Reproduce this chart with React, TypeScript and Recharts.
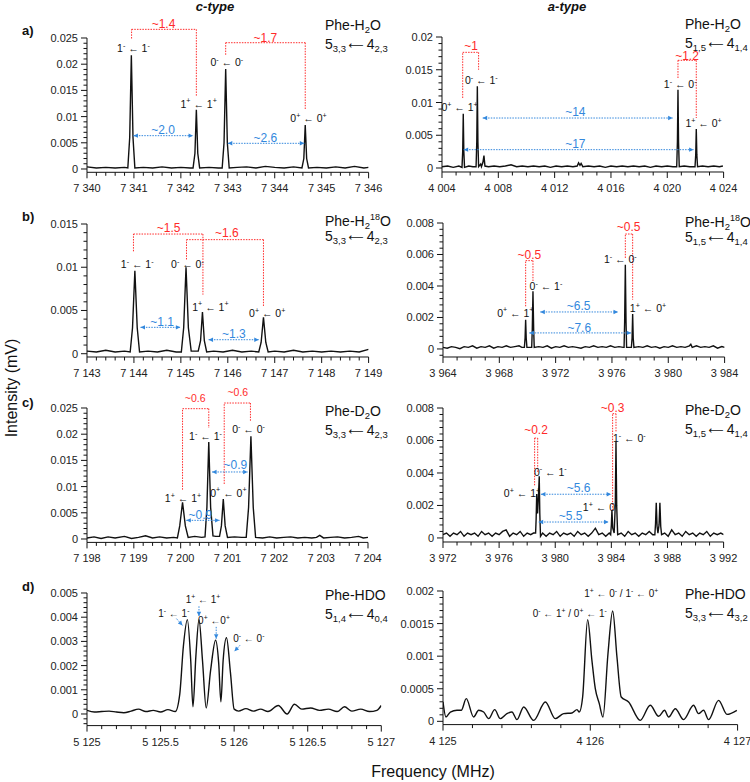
import React from 'react'
import { LineChart, Line, XAxis, YAxis, ReferenceLine, ReferenceDot } from 'recharts'

const FONT = '"Liberation Sans", Arial, Helvetica, sans-serif'
const INK = '#111'
const RED = '#ff2a2a'
const BLUE = '#3388dd'
const PAD_L = 60
const PAD_R = 24
const PAD_T = 46
const PAD_B = 30

type Pt = [number, number]

// ---- spectra, [frequency MHz, intensity mV] ----
const A_CTYPE: Pt[] = [
  [7340.0, 0.0004], [7340.2, 0.0002], [7340.4, 0.0003], [7340.6, 0.0002], [7340.8, 0.0003],
  [7340.87, 0.0002], [7340.91, 0.006], [7340.945, 0.0217], [7340.98, 0.006], [7341.02, 0.0002],
  [7341.2, 0.0003], [7341.4, 0.0002], [7341.6, 0.0004], [7341.8, 0.0002], [7342.0, 0.0003], [7342.2, 0.0002],
  [7342.26, 0.0002], [7342.3, 0.003], [7342.33, 0.0113], [7342.36, 0.003], [7342.4, 0.0002],
  [7342.6, 0.0003], [7342.8, 0.0002],
  [7342.88, 0.0002], [7342.92, 0.005], [7342.955, 0.0191], [7342.99, 0.005], [7343.03, 0.0002],
  [7343.2, 0.0003], [7343.4, 0.0004], [7343.6, 0.0002], [7343.8, 0.0005], [7344.0, 0.0003], [7344.2, 0.0002], [7344.4, 0.0004],
  [7344.58, 0.0002], [7344.62, 0.002], [7344.65, 0.0084], [7344.68, 0.002], [7344.72, 0.0002],
  [7344.9, 0.0003], [7345.1, 0.0002], [7345.3, 0.0004], [7345.5, 0.0002], [7345.7, 0.0005], [7345.9, 0.0002], [7346.0, 0.0003],
]

const A_ATYPE: Pt[] = [
  [4004.0, 0.0002], [4004.4, 0.0003], [4004.8, 0.0001], [4005.2, 0.0003],
  [4005.42, 0.0001], [4005.47, 0.0025], [4005.51, 0.0083], [4005.55, 0.0025], [4005.6, 0.0001],
  [4005.9, 0.0003], [4006.2, 0.0002],
  [4006.42, 0.0002], [4006.47, 0.004], [4006.51, 0.01247], [4006.55, 0.004], [4006.6, 0.0002],
  [4006.75, 0.0006], [4006.8, 0.0002], [4006.9, 0.0008], [4006.98, 0.0019], [4007.05, 0.0003],
  [4007.3, 0.0002], [4007.7, 0.0003], [4008.1, 0.0002], [4008.5, 0.0003], [4008.9, 0.0005], [4009.3, 0.0002],
  [4009.7, 0.0003], [4010.1, 0.0002], [4010.5, 0.0003], [4010.9, 0.0002], [4011.3, 0.0003], [4011.7, 0.0001],
  [4012.1, 0.0003], [4012.5, 0.0002], [4012.9, 0.0003], [4013.3, 0.0002], [4013.6, 0.0003], [4013.7, 0.0008],
  [4013.8, 0.0004], [4013.88, 0.0007], [4014.0, 0.0002], [4014.4, 0.0003], [4014.8, 0.0002], [4015.2, 0.0003],
  [4015.6, 0.0001], [4016.0, 0.0003], [4016.4, 0.0002], [4016.8, 0.0003], [4017.2, 0.0002], [4017.6, 0.0003],
  [4018.0, 0.0002], [4018.4, 0.0003], [4018.8, 0.0001], [4019.2, 0.0003], [4019.6, 0.0002], [4020.0, 0.0003], [4020.4, 0.0002],
  [4020.67, 0.0002], [4020.72, 0.004], [4020.76, 0.01196], [4020.8, 0.004], [4020.85, 0.0002],
  [4021.2, 0.0003], [4021.6, 0.0002], [4021.9, 0.0002],
  [4021.97, 0.0002], [4022.02, 0.002], [4022.06, 0.00595], [4022.1, 0.002], [4022.15, 0.0002],
  [4022.5, 0.0003], [4022.9, 0.0002], [4023.3, 0.0003], [4023.7, 0.0002], [4023.95, 0.0003],
]

const B_CTYPE: Pt[] = [
  [7143.0, 0.0003], [7143.2, 0.0002], [7143.4, 0.0004], [7143.6, 0.0002], [7143.8, 0.0003],
  [7143.92, 0.0002], [7143.97, 0.003], [7144.02, 0.0096], [7144.07, 0.003], [7144.12, 0.0002],
  [7144.3, 0.0003], [7144.5, 0.0002], [7144.7, 0.0004], [7144.9, 0.0002],
  [7145.01, 0.0002], [7145.06, 0.003], [7145.11, 0.00999], [7145.16, 0.003], [7145.22, 0.0003],
  [7145.37, 0.0003], [7145.42, 0.0015], [7145.46, 0.00482], [7145.5, 0.0015], [7145.55, 0.0002],
  [7145.7, 0.0003], [7145.9, 0.0002], [7146.1, 0.0004], [7146.3, 0.0002], [7146.5, 0.0003],
  [7146.66, 0.0002], [7146.71, 0.0013], [7146.76, 0.0042], [7146.81, 0.0013], [7146.86, 0.0002],
  [7147.0, 0.0003], [7147.2, 0.0002], [7147.4, 0.0004], [7147.6, 0.0002], [7147.8, 0.0003], [7148.0, 0.0002],
  [7148.2, 0.0003], [7148.4, 0.0002], [7148.6, 0.0003], [7148.8, 0.0002], [7149.0, 0.0005],
]

const B_ATYPE: Pt[] = [
  [3964.0, 0.0001], [3964.3, 0.00005], [3964.6, 0.00015], [3964.9, 0.0001], [3965.2, 0.00002], [3965.5, 0.00015],
  [3965.8, 0.0001], [3966.1, 0.0002], [3966.4, 0.00005], [3966.7, 0.00015], [3967.0, 0.0001], [3967.3, 0.0002],
  [3967.6, 0.00005], [3967.9, 0.00015], [3968.2, 0.0001], [3968.5, 0.0002], [3968.8, 0.0001], [3969.1, 0.00015],
  [3969.4, 0.0002], [3969.6, 0.0001],
  [3969.78, 0.0001], [3969.83, 0.0007], [3969.87, 0.00186], [3969.91, 0.0007], [3969.96, 0.0001],
  [3970.2, 0.0001], [3970.3, 0.0001], [3970.34, 0.0012], [3970.39, 0.00366], [3970.44, 0.0012], [3970.48, 0.0001],
  [3970.8, 0.00015], [3971.1, 0.0001], [3971.4, 0.0002], [3971.7, 0.00005], [3972.0, 0.00015], [3972.3, 0.0001],
  [3972.6, 0.0002], [3972.9, 0.0001], [3973.2, 0.00015], [3973.5, 0.0001], [3973.8, 0.00005], [3974.1, 0.00015],
  [3974.4, 0.0001], [3974.7, 0.0002], [3975.0, 0.0001], [3975.3, 0.00015], [3975.6, 0.0001], [3975.9, 0.0002],
  [3976.2, 0.0001], [3976.5, 0.00015], [3976.8, 0.0001],
  [3976.86, 0.0001], [3976.9, 0.0017], [3976.95, 0.00535], [3977.0, 0.0017], [3977.04, 0.0001],
  [3977.2, 0.0001], [3977.38, 0.0001], [3977.43, 0.0007], [3977.47, 0.00222], [3977.51, 0.0007], [3977.56, 0.0001],
  [3977.9, 0.00015], [3978.2, 0.0001], [3978.5, 0.0002], [3978.8, 0.0001], [3979.1, 0.00015], [3979.4, 0.00005],
  [3979.7, 0.00015], [3980.0, 0.0001], [3980.3, 0.0002], [3980.6, 0.0001], [3980.9, 0.00015], [3981.2, 0.0001],
  [3981.5, 0.0002], [3981.6, 0.0003], [3981.7, 0.0001], [3982.0, 0.0002], [3982.3, 0.0001], [3982.6, 0.00015],
  [3982.9, 0.0001], [3983.2, 0.0002], [3983.5, 0.00005], [3983.8, 0.00015], [3984.0, 0.0001],
]

const C_CTYPE: Pt[] = [
  [7198.0, 0.0002], [7198.15, 0.0004], [7198.3, 0.0001], [7198.45, 0.0004], [7198.6, 0.0002], [7198.8, 0.0005],
  [7198.95, 0.0001], [7199.1, 0.0003], [7199.25, 0.0006], [7199.4, 0.0002], [7199.55, 0.0004], [7199.7, 0.0002],
  [7199.85, 0.0003],
  [7199.93, 0.0002], [7199.98, 0.0025], [7200.04, 0.007], [7200.1, 0.0025], [7200.16, 0.0003],
  [7200.3, 0.0005], [7200.45, 0.0003],
  [7200.52, 0.0004], [7200.56, 0.006], [7200.6, 0.0185], [7200.64, 0.006], [7200.69, 0.0006], [7200.75, 0.0005],
  [7200.83, 0.0005], [7200.87, 0.0025], [7200.91, 0.00763], [7200.95, 0.0025], [7201.0, 0.0003],
  [7201.15, 0.0004], [7201.3, 0.0003],
  [7201.4, 0.0003], [7201.45, 0.006], [7201.5, 0.0196], [7201.55, 0.006], [7201.6, 0.0003],
  [7201.75, 0.0002], [7201.9, 0.0004], [7202.05, 0.0002], [7202.2, 0.0003], [7202.35, 0.0004], [7202.5, 0.0002],
  [7202.65, 0.0003], [7202.8, 0.0002], [7202.9, 0.0003], [7202.97, 0.0007], [7203.05, 0.0002], [7203.2, 0.0003],
  [7203.35, 0.0004], [7203.5, 0.0002], [7203.65, 0.0003], [7203.8, 0.0005], [7203.9, 0.0002], [7204.0, 0.0003],
]

const C_ATYPE: Pt[] = [
  [3972.0, 0.0002], [3972.25, 0.0003], [3972.5, 0.0001], [3972.75, 0.0003], [3973.0, 0.0002], [3973.25, 0.0004],
  [3973.5, 0.0001], [3973.75, 0.0003], [3974.0, 0.0002], [3974.25, 0.0003], [3974.5, 0.0001], [3974.75, 0.0004],
  [3975.0, 0.0002], [3975.25, 0.0003], [3975.5, 0.0001], [3975.75, 0.0003], [3976.0, 0.0002], [3976.25, 0.0004],
  [3976.5, 0.0005], [3976.75, 0.0001], [3977.0, 0.0003], [3977.25, 0.0002], [3977.5, 0.0004], [3977.75, 0.0001],
  [3978.0, 0.0003], [3978.25, 0.0002], [3978.45, 0.0003],
  [3978.6, 0.0003], [3978.64, 0.0012], [3978.68, 0.0027], [3978.74, 0.0015], [3978.8, 0.0025], [3978.86, 0.0038],
  [3978.9, 0.0015], [3978.95, 0.0001],
  [3979.1, 0.0003], [3979.35, 0.0001], [3979.6, 0.0003], [3979.85, 0.0002], [3980.1, 0.0004], [3980.35, 0.0001],
  [3980.6, 0.0003], [3980.85, 0.0002], [3981.1, 0.0003], [3981.35, 0.0001], [3981.6, 0.0004], [3981.85, 0.0002],
  [3982.1, 0.0003], [3982.35, 0.0001], [3982.6, 0.0003], [3982.86, 0.0006], [3983.1, 0.0002], [3983.35, 0.0003],
  [3983.6, 0.0001], [3983.85, 0.0003],
  [3983.95, 0.0002], [3984.0, 0.0008], [3984.04, 0.0017], [3984.1, 0.0006], [3984.2, 0.0003], [3984.28, 0.002],
  [3984.33, 0.0059], [3984.38, 0.002], [3984.45, 0.0002],
  [3984.7, 0.0003], [3984.95, 0.0001], [3985.2, 0.0004], [3985.45, 0.0002], [3985.7, 0.0003], [3985.95, 0.0001],
  [3986.2, 0.0003], [3986.45, 0.0002], [3986.7, 0.0004], [3986.95, 0.0002],
  [3987.1, 0.0002], [3987.15, 0.0009], [3987.2, 0.00217], [3987.26, 0.0007], [3987.32, 0.0003], [3987.4, 0.0008],
  [3987.46, 0.00217], [3987.52, 0.0007], [3987.58, 0.0002],
  [3987.8, 0.0003], [3988.05, 0.0001], [3988.3, 0.0005], [3988.55, 0.0002], [3988.8, 0.0003], [3989.05, 0.0001],
  [3989.3, 0.0004], [3989.55, 0.0002], [3989.8, 0.0003], [3990.05, 0.0001], [3990.3, 0.0003], [3990.55, 0.0002],
  [3990.8, 0.0004], [3991.05, 0.0001], [3991.3, 0.0003], [3991.55, 0.0002], [3991.8, 0.0003], [3992.0, 0.0002],
]

const D_CTYPE: Pt[] = [
  [5125.0, 0.00015], [5125.05, 0.00008], [5125.1, 0.0001], [5125.15, 0.00012], [5125.2, 0.00008], [5125.25, 0.00005],
  [5125.3, 0.00012], [5125.35, 0.0002], [5125.4, 0.0001], [5125.45, 0.00015], [5125.5, 0.00008], [5125.55, 0.00018],
  [5125.6, 0.0001],
  [5125.63, 0.0008], [5125.655, 0.0028], [5125.682, 0.0039], [5125.705, 0.0022], [5125.72, 0.0003],
  [5125.74, 0.0024], [5125.761, 0.0039], [5125.785, 0.0022], [5125.81, 0.00025],
  [5125.84, 0.0018], [5125.874, 0.00305], [5125.895, 0.0021], [5125.91, 0.0005],
  [5125.925, 0.0022], [5125.948, 0.00315], [5125.975, 0.0017], [5126.0, 0.0002],
  [5126.03, 0.00012], [5126.08, 0.00022], [5126.13, 0.00012], [5126.18, 0.0002], [5126.23, 0.0001], [5126.3, 0.00035],
  [5126.36, 0.0], [5126.41, 0.0004], [5126.46, 0.0002], [5126.52, 0.00025], [5126.58, 0.00015], [5126.64, 0.0002],
  [5126.7, 0.0001], [5126.75, 0.0003], [5126.8, 0.00012], [5126.86, 0.0002], [5126.92, 0.0001], [5126.97, 0.00015],
  [5127.0, 0.00035],
]

const D_ATYPE: Pt[] = [
  [4125.0, 0.0003], [4125.02, 0.000066], [4125.05, 0.000143], [4125.095, 0.000169], [4125.124, 0.000169],
  [4125.158, 0.000348], [4125.208, 0.000066], [4125.242, 0.000169], [4125.276, 0.000143], [4125.31, 0.000041],
  [4125.351, 0.000179], [4125.389, 0.000041], [4125.434, 0.000118], [4125.468, 0.000143], [4125.502, 0.000026],
  [4125.548, 0.00022], [4125.615, 0.000015], [4125.695, 0.000297], [4125.762, 0.000041], [4125.819, 0.000118],
  [4125.876, 0.000128], [4125.91, 0.000179], [4125.925, 0.000143], [4125.948, 0.000373], [4125.982, 0.00156],
  [4126.011, 0.000936], [4126.034, 0.000501], [4126.061, 0.000271], [4126.086, 0.000066], [4126.12, 0.001038],
  [4126.152, 0.001693], [4126.181, 0.000987], [4126.21, 0.000373], [4126.26, 0.000297], [4126.339, 0.000015],
  [4126.407, 0.000246], [4126.464, 0.000077], [4126.504, 0.000169], [4126.532, 0.000066], [4126.577, 0.000194],
  [4126.633, 0.000026], [4126.701, 0.000246], [4126.735, 0.000118], [4126.769, 0.000169], [4126.803, 0.000026],
  [4126.871, 0.000322], [4126.928, 0.000107], [4126.995, 0.000169],
]

// ---- axis ticks ----
const X_A_C = [7340, 7341, 7342, 7343, 7344, 7345, 7346]
const X_A_A = [4004, 4008, 4012, 4016, 4020, 4024]
const X_B_C = [7143, 7144, 7145, 7146, 7147, 7148, 7149]
const X_B_A = [3964, 3968, 3972, 3976, 3980, 3984]
const X_C_C = [7198, 7199, 7200, 7201, 7202, 7203, 7204]
const X_C_A = [3972, 3976, 3980, 3984, 3988, 3992]
const X_D_C = [5125, 5125.5, 5126, 5126.5, 5127]
const X_D_A = [4125, 4126, 4127]
const Y_25 = [0, 0.005, 0.01, 0.015, 0.02, 0.025]
const Y_20 = [0, 0.005, 0.01, 0.015, 0.02]
const Y_15 = [0, 0.005, 0.01, 0.015]
const Y_8 = [0, 0.002, 0.004, 0.006, 0.008]
const Y_5 = [0, 0.001, 0.002, 0.003, 0.004, 0.005]
const Y_2 = [0, 0.0005, 0.001, 0.0015, 0.002]

// ---- annotations: brackets [x1, x2, top, bottomL, bottomR], arrows [x1, x2, y], labels [x, y, text] ----
const A_C_BR = [[7340.95, 7342.33, 0.02665, 0.0249, 0.0138], [7342.955, 7344.65, 0.0241, 0.0218, 0.0113]]
const A_C_AR = [[7340.99, 7342.26, 0.00636], [7343.0, 7344.63, 0.0049]]
const A_C_RED: [number, number, string][] = [[7341.63, 0.0277, '~1.4'], [7343.8, 0.025, '~1.7']]
const A_C_BLUE: [number, number, string][] = [[7341.62, 0.0075, '~2.0'], [7343.8, 0.006, '~2.6']]
const A_C_LAB: [number, number, string][] = [
  [7340.99, 0.023, '1- ← 1-'], [7342.38, 0.0124, '1+ ← 1+'], [7342.98, 0.0204, '0- ← 0-'], [7344.72, 0.0097, '0+ ← 0+'],
]

const A_A_BR = [[4005.47, 4006.6, 0.01766, 0.01069, 0.015], [4020.76, 4022.06, 0.01644, 0.01374, 0.00763]]
const A_A_AR = [[4006.89, 4020.38, 0.00763], [4005.54, 4021.87, 0.0028]]
const A_A_RED: [number, number, string][] = [[4006.06, 0.0186, '~1'], [4021.4, 0.0172, '~1.2']]
const A_A_BLUE: [number, number, string][] = [[4013.47, 0.0086, '~14'], [4013.47, 0.0037, '~17']]
const A_A_LAB: [number, number, string][] = [
  [4005.25, 0.0092, '0+ ← 1+'], [4006.79, 0.0134, '0- ← 1-'], [4020.92, 0.0127, '1- ← 0-'], [4022.58, 0.0068, '1+ ← 0+'],
]

const B_C_BR = [[7143.99, 7145.47, 0.01384, 0.01184, 0.00683], [7145.12, 7146.76, 0.01319, 0.0109, 0.00548]]
const B_C_AR = [[7144.14, 7144.99, 0.00305], [7145.59, 7146.66, 0.00162]]
const B_C_RED: [number, number, string][] = [[7144.74, 0.0146, '~1.5'], [7145.98, 0.014, '~1.6']]
const B_C_BLUE: [number, number, string][] = [[7144.6, 0.0037, '~1.1'], [7146.13, 0.0023, '~1.3']]
const B_C_LAB: [number, number, string][] = [
  [7144.07, 0.0103, '1- ← 1-'], [7145.14, 0.0103, '0- ← 0-'], [7145.63, 0.0054, '1+ ← 1+'], [7146.84, 0.0047, '0+ ← 0+'],
]

const B_A_BR = [[3969.87, 3970.39, 0.00561, 0.00271, 0.0043], [3976.95, 3977.47, 0.0073, 0.00578, 0.00313]]
const B_A_AR = [[3970.91, 3976.43, 0.00235], [3970.13, 3977.37, 0.00102]]
const B_A_RED: [number, number, string][] = [[3970.13, 0.006, '~0.5'], [3977.18, 0.00775, '~0.5']]
const B_A_BLUE: [number, number, string][] = [[3973.63, 0.00275, '~6.5'], [3973.68, 0.00133, '~7.6']]
const B_A_LAB: [number, number, string][] = [
  [3969.14, 0.00229, '0+ ← 1+'], [3971.31, 0.00398, '0- ← 1-'], [3976.59, 0.00567, '1- ← 0-'], [3978.56, 0.00256, '1+ ← 0+'],
]

const C_C_BR = [[7200.04, 7200.6, 0.02487, 0.00941, 0.02118], [7200.93, 7201.49, 0.02595, 0.0105, 0.02246]]
const C_C_AR = [[7200.67, 7201.43, 0.01279], [7200.12, 7200.83, 0.00356]]
const C_C_RED: [number, number, string][] = [[7200.31, 0.0269, '~0.6'], [7201.22, 0.028, '~0.6']]
const C_C_BLUE: [number, number, string][] = [[7201.17, 0.0142, '~0.9'], [7200.42, 0.0046, '~0.9']]
const C_C_LAB: [number, number, string][] = [
  [7200.05, 0.0078, '1+ ← 1+'], [7200.53, 0.0196, '1- ← 1-'], [7201.02, 0.0088, '0+ ← 0+'], [7201.45, 0.0209, '0- ← 0-'],
]

const C_A_BR = [[3978.53, 3978.75, 0.00615, 0.00324, 0.00406], [3984.09, 3984.33, 0.00765, 0.0017, 0.00652]]
const C_A_AR = [[3978.98, 3983.99, 0.00269], [3978.82, 3983.8, 0.00098]]
const C_A_RED: [number, number, string][] = [[3978.63, 0.00663, '~0.2'], [3984.09, 0.00802, '~0.3']]
const C_A_BLUE: [number, number, string][] = [[3981.67, 0.0031, '~5.6'], [3981.1, 0.00138, '~5.5']]
const C_A_LAB: [number, number, string][] = [
  [3977.63, 0.00273, '0+ ← 1+'], [3979.65, 0.00406, '0- ← 1-'], [3985.28, 0.00615, '1- ← 0-'], [3983.2, 0.0019, '1+ ← 0-'],
]

// single-headed pointers [x1, y1, x2, y2]
const D_C_PTR = [
  [5125.608, 0.00394, 5125.649, 0.00366], [5125.761, 0.00445, 5125.761, 0.00404],
  [5125.878, 0.0036, 5125.878, 0.00311], [5126.04, 0.00284, 5126.002, 0.00259],
]
const D_C_LAB: [number, number, string][] = [
  [5125.59, 0.00417, '1- ← 1-'], [5125.788, 0.00472, '1+ ← 1+'], [5125.863, 0.00387, '0+ ←0+'], [5126.1, 0.00311, '0- ← 0-'],
]
const D_A_LAB: [number, number, string][] = [
  [4126.21, 0.00196, '1+ ← 0- / 1- ← 0+'], [4125.86, 0.00165, '0- ← 1+ / 0+ ← 1-'],
]

type Cfg = {
  data: Pt[]
  box: [number, number, number, number]
  xDomain: [number, number]
  xTicks: number[]
  xStep: number
  yDomain: [number, number]
  yTicks: number[]
  yStep: number
  curve: 'linear' | 'monotone'
  brackets?: number[][]
  arrows?: number[][]
  pointers?: number[][]
  red?: [number, number, string][]
  blue?: [number, number, string][]
  labels: [number, number, string][]
  labelSize?: number
  redSize?: number
}

const PANELS: Cfg[] = [
  { data: A_CTYPE, box: [86.7, 368.3, 38, 172.3], xDomain: [7340, 7346], xTicks: X_A_C, xStep: 0.2,
    yDomain: [-0.00063, 0.025], yTicks: Y_25, yStep: 0.001, curve: 'linear',
    brackets: A_C_BR, arrows: A_C_AR, red: A_C_RED, blue: A_C_BLUE, labels: A_C_LAB },
  { data: A_ATYPE, box: [441.7, 723.3, 37.3, 172.3], xDomain: [4004, 4024], xTicks: X_A_A, xStep: 1,
    yDomain: [-0.00061, 0.02], yTicks: Y_20, yStep: 0.001, curve: 'linear',
    brackets: A_A_BR, arrows: A_A_AR, red: A_A_RED, blue: A_A_BLUE, labels: A_A_LAB },
  { data: B_CTYPE, box: [86.7, 368.3, 224.3, 357.3], xDomain: [7143, 7149], xTicks: X_B_C, xStep: 0.2,
    yDomain: [-0.00038, 0.015], yTicks: Y_15, yStep: 0.001, curve: 'linear',
    brackets: B_C_BR, arrows: B_C_AR, red: B_C_RED, blue: B_C_BLUE, labels: B_C_LAB },
  { data: B_ATYPE, box: [442.7, 724.3, 223.3, 357.3], xDomain: [3964, 3984], xTicks: X_B_A, xStep: 1,
    yDomain: [-0.00051, 0.008], yTicks: Y_8, yStep: 0.0004, curve: 'linear',
    brackets: B_A_BR, arrows: B_A_AR, red: B_A_RED, blue: B_A_BLUE, labels: B_A_LAB },
  { data: C_CTYPE, box: [86.7, 367.7, 408.3, 542.7], xDomain: [7198, 7204], xTicks: X_C_C, xStep: 0.2,
    yDomain: [-0.00065, 0.025], yTicks: Y_25, yStep: 0.001, curve: 'linear',
    brackets: C_C_BR, arrows: C_C_AR, red: C_C_RED, blue: C_C_BLUE, labels: C_C_LAB, redSize: 10.5 },
  { data: C_ATYPE, box: [442.7, 723.3, 407.7, 541.7], xDomain: [3972, 3992], xTicks: X_C_A, xStep: 1,
    yDomain: [-0.00025, 0.008], yTicks: Y_8, yStep: 0.0004, curve: 'linear',
    brackets: C_A_BR, arrows: C_A_AR, red: C_A_RED, blue: C_A_BLUE, labels: C_A_LAB },
  { data: D_CTYPE, box: [86.7, 381, 592.7, 725.3], xDomain: [5125, 5127], xTicks: X_D_C, xStep: 0.1,
    yDomain: [-0.00048, 0.005], yTicks: Y_5, yStep: 0.0002, curve: 'monotone',
    pointers: D_C_PTR, labels: D_C_LAB, labelSize: 10 },
  { data: D_ATYPE, box: [442.7, 737.3, 590.7, 724.3], xDomain: [4125, 4127], xTicks: X_D_A, xStep: 0.2,
    yDomain: [-0.00005, 0.002], yTicks: Y_2, yStep: 0.0001, curve: 'monotone',
    labels: D_A_LAB, labelSize: 10 },
]

const tickList = (dom: [number, number], majors: number[], step: number) => {
  const out: number[] = []
  for (let k = Math.ceil(dom[0] / step - 1e-6); k * step <= dom[1] + step * 1e-6; k++) out.push(+(k * step).toFixed(8))
  majors.forEach((m) => { if (!out.some((v) => Math.abs(v - m) < step * 1e-3)) out.push(m) })
  return out.sort((a, b) => a - b)
}

const fmtFreq = (v: number) => {
  const [i, d] = String(v).split('.')
  return i.slice(0, -3) + ' ' + i.slice(-3) + (d ? '.' + d : '')
}

function rich(text: string, x: number, y: number, size: number, color: string) {
  const parts = text.split(/([+-])/)
  const sh = size * 0.4
  let up = false
  return (
    <text x={x} y={y + size * 0.35} textAnchor="middle" fontSize={size} fill={color} fontFamily={FONT}>
      {parts.map((s, i) => {
        if (i % 2 === 1) {
          up = true
          return <tspan key={i} dy={-sh} fontSize={size * 0.68}>{s}</tspan>
        }
        if (!s) return null
        const dy = up ? sh : 0
        up = false
        return <tspan key={i} dy={dy}>{s}</tspan>
      })}
    </text>
  )
}

const head = (x: number, y: number, a: number, L = 4.5, W = 2.2) => {
  const bx = x - L * Math.cos(a)
  const by = y - L * Math.sin(a)
  return `${x},${y} ${bx + W * Math.sin(a)},${by - W * Math.cos(a)} ${bx - W * Math.sin(a)},${by + W * Math.cos(a)}`
}

const arrowShape = (both: boolean) => (p: any) => {
  const { x1, y1, x2, y2 } = p
  const a = Math.atan2(y2 - y1, x2 - x1)
  return (
    <g>
      <line x1={x1} y1={y1} x2={x2} y2={y2} stroke={BLUE} strokeWidth={1} strokeDasharray="1.5 1.2" />
      {both && <polygon points={head(x1, y1, a + Math.PI)} fill={BLUE} />}
      <polygon points={head(x2, y2, a)} fill={BLUE} />
    </g>
  )
}

function Panel({ cfg }: { cfg: Cfg }) {
  const [x0, x1, y0, y1] = cfg.box
  const w = x1 - x0 + PAD_L + PAD_R
  const h = y1 - y0 + PAD_T + PAD_B
  const rows = cfg.data.map(([f, v]) => ({ f, v }))
  const xt = tickList(cfg.xDomain, cfg.xTicks, cfg.xStep)
  const yt = tickList(cfg.yDomain, cfg.yTicks, cfg.yStep)
  const xEps = cfg.xStep * 1e-3
  const yEps = cfg.yStep * 1e-3
  const ls = cfg.labelSize ?? 10.5
  const rs = cfg.redSize ?? 12

  const seg = (a: number[], b: number[], k: string) => (
    <ReferenceLine key={k} segment={[{ x: a[0], y: a[1] }, { x: b[0], y: b[1] }]} stroke={RED}
      strokeWidth={1} strokeDasharray="1.5 1.2" ifOverflow="visible" />
  )

  return (
    <div style={{ position: 'absolute', left: x0 - PAD_L, top: y0 - PAD_T }}>
      <LineChart width={w} height={h} data={rows} margin={{ top: PAD_T, right: PAD_R, bottom: 0, left: 0 }}>
        <XAxis dataKey="f" type="number" domain={cfg.xDomain} allowDataOverflow ticks={xt} interval={0}
          height={PAD_B} tickSize={0} tickMargin={0} tickLine={false} axisLine={{ stroke: INK, strokeWidth: 1 }}
          tick={(p: any) => {
            const v = p.payload.value
            const m = cfg.xTicks.find((t) => Math.abs(t - v) < xEps)
            return (
              <g>
                <line x1={p.x} y1={p.y} x2={p.x} y2={p.y + (m !== undefined ? 6 : 3.5)} stroke={INK} />
                {m !== undefined && (
                  <text x={p.x} y={p.y + 20} textAnchor="middle" fontSize={11} fill="#222" fontFamily={FONT}>
                    {fmtFreq(m)}
                  </text>
                )}
              </g>
            )
          }} />
        <YAxis type="number" domain={cfg.yDomain} allowDataOverflow ticks={yt} interval={0} width={PAD_L}
          tickSize={0} tickMargin={0} tickLine={false} axisLine={{ stroke: INK, strokeWidth: 1 }}
          tick={(p: any) => {
            const v = p.payload.value
            const m = cfg.yTicks.find((t) => Math.abs(t - v) < yEps)
            return (
              <g>
                <line x1={p.x} y1={p.y} x2={p.x - (m !== undefined ? 6 : 3.5)} y2={p.y} stroke={INK} />
                {m !== undefined && (
                  <text x={p.x - 9} y={p.y + 4} textAnchor="end" fontSize={11} fill="#222" fontFamily={FONT}>
                    {String(m)}
                  </text>
                )}
              </g>
            )
          }} />
        <Line dataKey="v" type={cfg.curve} stroke={INK} strokeWidth={1.4} dot={false} isAnimationActive={false} />
        {(cfg.brackets ?? []).flatMap(([a, b, top, bl, br], i) => [
          seg([a, bl], [a, top], `bl${i}`),
          seg([a, top], [b, top], `bt${i}`),
          seg([b, top], [b, br], `br${i}`),
        ])}
        {(cfg.arrows ?? []).map(([a, b, y], i) => (
          <ReferenceLine key={`ar${i}`} segment={[{ x: a, y }, { x: b, y }]} ifOverflow="visible" shape={arrowShape(true)} />
        ))}
        {(cfg.pointers ?? []).map(([a, ya, b, yb], i) => (
          <ReferenceLine key={`pt${i}`} segment={[{ x: a, y: ya }, { x: b, y: yb }]} ifOverflow="visible" shape={arrowShape(false)} />
        ))}
        {cfg.labels.map(([x, y, t], i) => (
          <ReferenceDot key={`lb${i}`} x={x} y={y} r={0} ifOverflow="visible" shape={(p: any) => rich(t, p.cx, p.cy, ls, INK)} />
        ))}
        {(cfg.red ?? []).map(([x, y, t], i) => (
          <ReferenceDot key={`rd${i}`} x={x} y={y} r={0} ifOverflow="visible" shape={(p: any) => rich(t, p.cx, p.cy, rs, RED)} />
        ))}
        {(cfg.blue ?? []).map(([x, y, t], i) => (
          <ReferenceDot key={`bl${i}`} x={x} y={y} r={0} ifOverflow="visible" shape={(p: any) => rich(t, p.cx, p.cy, 12, BLUE)} />
        ))}
      </LineChart>
    </div>
  )
}

const Sub = ({ children }: { children: React.ReactNode }) => (
  <span style={{ fontSize: 9.5, verticalAlign: -3 }}>{children}</span>
)
const Sup = ({ children }: { children: React.ReactNode }) => (
  <span style={{ fontSize: 9, verticalAlign: 6 }}>{children}</span>
)

const H2O = <>Phe-H<Sub>2</Sub>O</>
const H218O = <>Phe-H<Sub>2</Sub><Sup>18</Sup>O</>
const D2O = <>Phe-D<Sub>2</Sub>O</>
const HDO = <>Phe-HDO</>
const tr = (a: string, b: string, c: string, d: string) => (
  <>{a}<Sub>{b}</Sub>{'\u2009'}<span style={{ fontFamily: '"DejaVu Sans"', fontSize: 10.5 }}>⟵</span>{'\u2009'}{c}<Sub>{d}</Sub></>
)

const SPECIES: [number, number, React.ReactNode, React.ReactNode][] = [
  [325, 25, H2O, tr('5', '3,3', '4', '2,3')],
  [685, 24, H2O, tr('5', '1,5', '4', '1,4')],
  [325, 217, H218O, tr('5', '3,3', '4', '2,3')],
  [685, 218, H218O, tr('5', '1,5', '4', '1,4')],
  [325, 411, D2O, tr('5', '3,3', '4', '2,3')],
  [685, 410, D2O, tr('5', '1,5', '4', '1,4')],
  [325, 595, HDO, tr('5', '1,4', '4', '0,4')],
  [685, 594, HDO, tr('5', '3,3', '4', '3,2')],
]

const LETTERS: [string, number][] = [['a)', 31], ['b)', 217], ['c)', 403], ['d)', 587]]

export default function App() {
  return (
    <div style={{ position: 'absolute', left: 0, top: 0, width: 750, height: 782, background: '#fff',
      fontFamily: FONT, color: '#111', overflow: 'hidden' }}>
      {PANELS.map((c, i) => <Panel key={i} cfg={c} />)}
      <div style={{ position: 'absolute', left: 165, top: 0, width: 100, textAlign: 'center', fontSize: 13,
        fontWeight: 'bold', fontStyle: 'italic', lineHeight: '14px' }}>c-type</div>
      <div style={{ position: 'absolute', left: 517, top: 0, width: 100, textAlign: 'center', fontSize: 13,
        fontWeight: 'bold', fontStyle: 'italic', lineHeight: '14px' }}>a-type</div>
      {LETTERS.map(([t, y]) => (
        <div key={t} style={{ position: 'absolute', left: 22, top: y - 8, fontSize: 13, fontWeight: 'bold',
          lineHeight: '16px' }}>{t}</div>
      ))}
      {SPECIES.map(([x, y, n, t], i) => (
        <div key={i} style={{ position: 'absolute', left: x, top: y - 9, fontSize: 14, lineHeight: '18px',
          whiteSpace: 'nowrap' }}>
          <div style={{ height: 19 }}>{n}</div>
          <div>{t}</div>
        </div>
      ))}
      <div style={{ position: 'absolute', left: 12 - 70, top: 388 - 10, width: 140, height: 20, lineHeight: '20px',
        textAlign: 'center', fontSize: 16, transform: 'rotate(-90deg)' }}>Intensity (mV)</div>
      <div style={{ position: 'absolute', left: 433 - 90, top: 762, width: 180, textAlign: 'center', fontSize: 16,
        lineHeight: '20px' }}>Frequency (MHz)</div>
    </div>
  )
}
